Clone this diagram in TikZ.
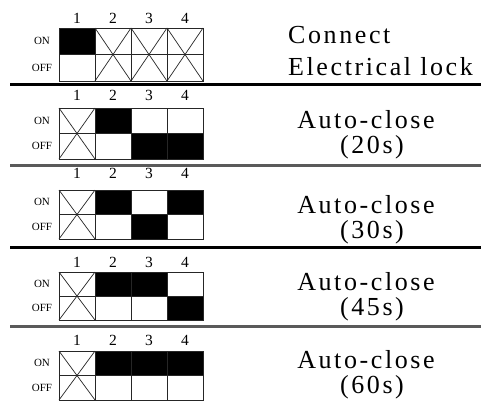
\documentclass[tikz,border=0pt]{standalone}
\usepackage{fontspec}
\setmainfont{Liberation Serif}
\usetikzlibrary{positioning}
\definecolor{rulegray}{HTML}{5A5A5A}

\begin{document}
\begin{tikzpicture}[x=1pt,y=-1pt,
  cell/.style={draw=black!85,line width=0.8pt,anchor=north west,minimum width=36pt,inner sep=0pt,outer sep=0pt},
  xline/.style={draw=black!85,line width=0.7pt},
  digit/.style={font=\fontsize{15.5}{15.5}\selectfont,inner sep=0pt},
  swlabel/.style={font=\fontsize{11}{11}\selectfont,inner sep=0pt},
  desc/.style={font=\fontsize{26}{26}\selectfont\addfontfeatures{LetterSpace=10},inner sep=0pt,anchor=base},
  sep/.style={line width=3pt}]
\useasboundingbox (0,0) rectangle (481,404);
% switch blocks: 0 = not used, 1 = ON, 2 = OFF
\foreach \s/\top/\h/\ny/\a/\b/\c/\d in {1/28/26.5/18/1/0/0/0, 2/108/25.5/95/0/1/2/2,
    3/190/24.5/173/0/1/2/1, 4/272/24/262/0/1/1/2, 5/351/24.5/340/0/1/1/1}{
  \node[swlabel] (lon-\s) at (42,{\top+\h/2}) {ON};
  \node[swlabel] (loff-\s) at (42,{\top+1.5*\h}) {OFF};
  \foreach \j/\st in {1/\a,2/\b,3/\c,4/\d}{
    \ifnum\st=1 \def\onfill{black}\else\def\onfill{white}\fi
    \ifnum\st=2 \def\offfill{black}\else\def\offfill{white}\fi
    \node[cell,minimum height=\h,fill=\onfill] (on-\s-\j) at ({59+36*(\j-1)},\top) {};
    \node[cell,minimum height=\h,fill=\offfill] (off-\s-\j) at ({59+36*(\j-1)},{\top+\h}) {};
    \node[digit] (num-\s-\j) at ({77+36*(\j-1)},\ny) {\j};
    \ifnum\st=0
      \draw[xline] (on-\s-\j.north west) -- (off-\s-\j.south east)
                   (on-\s-\j.north east) -- (off-\s-\j.south west);
    \fi
  }
}
% descriptions
\node[desc,anchor=base west] (conn) at (288,44) {Connect};
\node[desc,anchor=base west] (elock) at (288,75) {Electrical lock};
\node[desc] (ac20) at (366,128) {Auto-close};
\node[desc] (t20) at (372,153) {(20s)};
\node[desc] (ac30) at (366,213) {Auto-close};
\node[desc] (t30) at (372,238) {(30s)};
\node[desc] (ac45) at (366,290) {Auto-close};
\node[desc] (t45) at (372,315) {(45s)};
\node[desc] (ac60) at (366,368) {Auto-close};
\node[desc] (t60) at (372,393) {(60s)};
% separators
\draw[sep] (10,84) -- (481,84);
\draw[sep,rulegray] (10,165) -- (481,165);
\draw[sep] (10,247) -- (481,247);
\draw[sep,rulegray] (10,326) -- (481,326);
\end{tikzpicture}
\end{document}
